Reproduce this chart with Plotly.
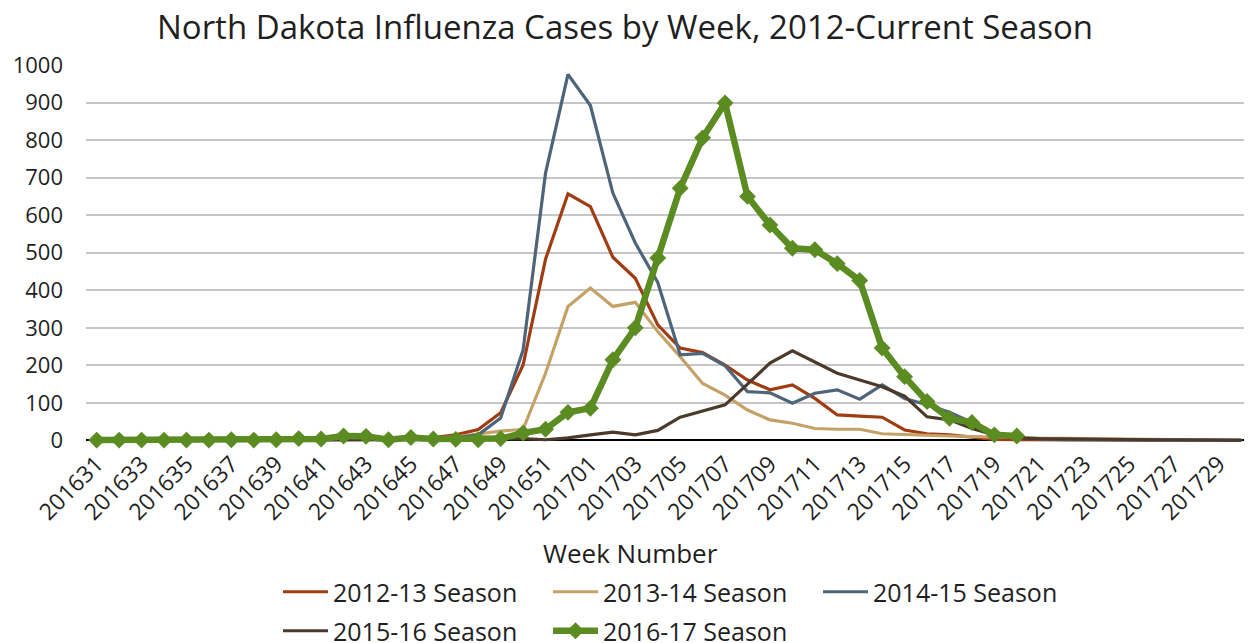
import plotly.graph_objects as go

weeks = ["201631", "201632", "201633", "201634", "201635", "201636", "201637", "201638",
         "201639", "201640", "201641", "201642", "201643", "201644", "201645", "201646",
         "201647", "201648", "201649", "201650", "201651", "201652",
         "201701", "201702", "201703", "201704", "201705", "201706", "201707", "201708",
         "201709", "201710", "201711", "201712", "201713", "201714", "201715", "201716",
         "201717", "201718", "201719", "201720", "201721", "201722", "201723", "201724",
         "201725", "201726", "201727", "201728", "201729", "201730"]

s2012_13 = [1, 1, 1, 1, 1, 2, 2, 2, 3, 4, 6, 8, 7, 5, 6, 8,
            15, 29, 74, 201, 483, 657,
            623, 488, 432, 308, 246, 234, 201, 161, 135, 148, 112, 68, 65, 62, 28, 18,
            15, 10, 3, 2, 2, 1, 1, 1, 1, 0, 0, 0, 0, 0]
s2013_14 = [0, 0, 0, 0, 0, 1, 1, 1, 1, 2, 3, 4, 4, 3, 4, 6,
            10, 18, 25, 30, 179, 357,
            406, 357, 368, 290, 223, 152, 121, 81, 55, 46, 32, 30, 30, 18, 15, 14,
            12, 10, 9, 7, 6, 6, 5, 5, 4, 3, 3, 2, 2, 1]
s2014_15 = [0, 0, 0, 1, 1, 1, 1, 2, 2, 3, 4, 6, 4, 3, 4, 4,
            7, 15, 60, 241, 712, 975,
            892, 659, 526, 421, 228, 232, 199, 130, 127, 99, 126, 135, 110, 148, 112, 95,
            75, 48, 12, 6, 3, 2, 2, 1, 1, 1, 1, 0, 0, 0]
s2015_16 = [0, 0, 0, 0, 0, 0, 0, 1, 1, 1, 1, 2, 2, 1, 2, 2,
            3, 4, 4, 5, 2, 7,
            15, 22, 15, 27, 62, 79, 95, 150, 206, 239, 210, 179, 161, 143, 118, 63,
            55, 32, 15, 7, 5, 4, 3, 3, 2, 2, 2, 1, 1, 1]
s2016_17 = [1, 1, 1, 1, 1, 1, 2, 1, 2, 5, 4, 12, 11, 2, 8, 4,
            3, 2, 5, 20, 30, 75,
            86, 215, 300, 486, 672, 806, 899, 650, 574, 512, 508, 471, 426, 246, 170, 104,
            59, 48, 15, 12]

series = [
    ("2012-13 Season", s2012_13, "#A03C12", "legend"),
    ("2013-14 Season", s2013_14, "#C4A267", "legend"),
    ("2014-15 Season", s2014_15, "#4D6479", "legend"),
    ("2015-16 Season", s2015_16, "#4B3A2A", "legend2"),
]

FONT = "Open Sans"
TXT = "#1f1f1f"

fig = go.Figure()
for name, vals, col, lg in series:
    fig.add_trace(go.Scatter(x=weeks[:len(vals)], y=vals, name=name, mode="lines",
                             legend=lg, line=dict(color=col, width=3.2)))
fig.add_trace(go.Scatter(x=weeks[:len(s2016_17)], y=s2016_17, name="2016-17 Season",
                         mode="lines+markers", cliponaxis=False, legend="legend2",
                         line=dict(color="#5B8C22", width=6.5),
                         marker=dict(symbol="diamond", size=13, color="#5B8C22")))

# page has an 8px body margin: figure coordinates = screen coordinates - 8
W, H = 1244, 635
PL, PT, PB = 78, 57, 437   # plot-area left / top / bottom in figure pixels
PW, PH = W - PL, PB - PT

legend_common = dict(orientation="h", xanchor="left", yanchor="top",
                     font=dict(family=FONT, size=25, color=TXT),
                     entrywidth=210, entrywidthmode="pixels", itemwidth=45,
                     bgcolor="rgba(0,0,0,0)", traceorder="normal")

fig.update_layout(
    width=W, height=H,
    margin=dict(l=PL, r=0, t=PT, b=H - PB, autoexpand=False),
    paper_bgcolor="white", plot_bgcolor="white",
    font=dict(family=FONT, color=TXT),
    title=dict(text="North Dakota Influenza Cases by Week, 2012-Current Season",
               x=617 / W, xanchor="center", y=1 - 19 / H, yanchor="middle",
               font=dict(family=FONT, size=33, color=TXT)),
    xaxis=dict(type="category", range=[-0.477, 51.48], automargin=False,
               tickmode="array", tickvals=weeks[::2], ticktext=weeks[::2],
               tickangle=-45, tickfont=dict(size=23, color=TXT),
               showgrid=False, showline=False, zeroline=False, ticks=""),
    yaxis=dict(range=[-12, 1000], tickmode="array", automargin=False,
               tickvals=[0, 100, 200, 300, 400, 500, 600, 700, 800, 900, 1000],
               tickfont=dict(size=22, color=TXT),
               showgrid=True, gridcolor="#c6c6c6", gridwidth=1.6,
               zeroline=True, zerolinecolor="#000000", zerolinewidth=2.2,
               showline=False, ticks="", ticklabelstandoff=22),
    showlegend=True,
    legend=dict(x=(270 - PL) / PW, y=-(561 - PB) / PH, **legend_common),
    legend2=dict(x=(270 - PL) / PW, y=-(600 - PB) / PH, **legend_common),
    annotations=[dict(text="Week Number", xref="paper", yref="paper",
                      x=(622 - PL) / PW, y=-(545 - PB) / PH, xanchor="center",
                      yanchor="middle", showarrow=False,
                      font=dict(family=FONT, size=26, color=TXT))],
)

fig.write_html("out.html")
